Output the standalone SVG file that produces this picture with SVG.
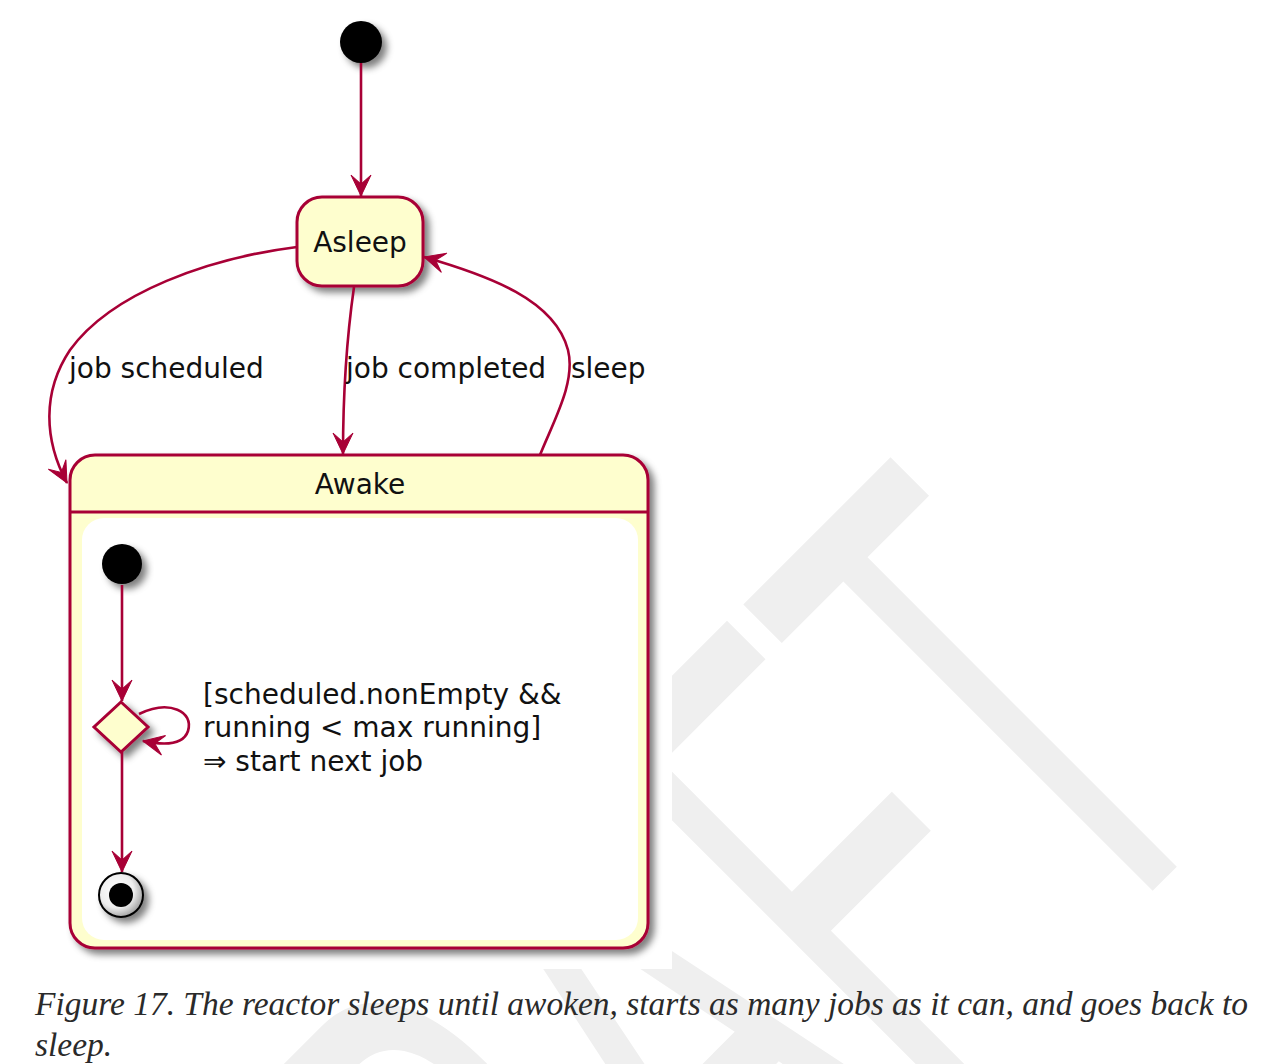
<svg xmlns="http://www.w3.org/2000/svg" width="1270" height="1064" viewBox="0 0 1270 1064">
<style>
.lbl{font-family:"DejaVu Sans",sans-serif;font-size:28px;fill:#111}
.node{fill:#FEFECE;stroke:#A80036;stroke-width:3}
.edge{fill:none;stroke:#A80036;stroke-width:2.6}
.cap{font-family:"Liberation Serif",serif;font-style:italic;font-size:33.5px;fill:#2a2a2a}
.wm{font-family:"Liberation Sans",sans-serif;font-size:715px;fill:#efefef}
</style>
<defs>
<filter id="sh" x="-30%" y="-30%" width="160%" height="160%">
<feGaussianBlur in="SourceAlpha" stdDeviation="3.5"/>
<feOffset dx="5" dy="5" result="b"/>
<feFlood flood-color="#000" flood-opacity="0.5"/>
<feComposite in2="b" operator="in" result="s"/>
<feMerge><feMergeNode in="s"/><feMergeNode in="SourceGraphic"/></feMerge>
</filter>
<marker id="arr" viewBox="-22 -12 24 24" refX="0" refY="0" markerWidth="24" markerHeight="24" markerUnits="userSpaceOnUse" orient="auto">
<path d="M0,0 L-21,-10 L-12,0 L-21,10 Z" fill="#A80036" stroke="#A80036" stroke-width="1" stroke-linejoin="miter"/>
</marker>
<radialGradient id="endg" cx="40%" cy="40%" r="65%">
<stop offset="0" stop-color="#ffffff"/>
<stop offset="0.6" stop-color="#eeeeee"/>
<stop offset="1" stop-color="#999999"/>
</radialGradient>
</defs>
<rect x="0" y="0" width="1270" height="1064" fill="#ffffff"/>
<g id="watermark">
<text class="wm" transform="translate(376.5,1667) rotate(-45) scale(0.515,1)" x="0" y="0">DRAFT</text>
</g>
<rect x="0" y="0" width="672" height="969" fill="#ffffff"/>
<g id="node-awake">
<rect class="node" x="70" y="455" width="578" height="493" rx="25" ry="25" filter="url(#sh)"/>
<path d="M70,512 H648" stroke="#A80036" stroke-width="3" fill="none"/>
<rect x="82" y="518" width="556" height="422" rx="22" ry="22" fill="#ffffff"/>
<text class="lbl" x="360" y="494" text-anchor="middle">Awake</text>
</g>
<g id="node-start">
<circle cx="361" cy="42" r="21" fill="#000" filter="url(#sh)"/>
</g>
<g id="node-asleep">
<rect class="node" x="297" y="197" width="126" height="89" rx="25" ry="25" filter="url(#sh)"/>
<text class="lbl" x="360" y="252" text-anchor="middle">Asleep</text>
</g>
<g id="node-inner-start">
<circle cx="122" cy="564" r="20" fill="#000" filter="url(#sh)"/>
</g>
<g id="node-choice">
<polygon class="node" points="121,702 148,727 121,752 94,727" filter="url(#sh)"/>
</g>
<g id="node-inner-end">
<circle cx="121" cy="895" r="22" fill="url(#endg)" stroke="#000" stroke-width="2" filter="url(#sh)"/>
<circle cx="121" cy="895" r="12" fill="#000"/>
</g>
<g id="connectors">
<path class="edge" d="M361,63 L361,196" marker-end="url(#arr)"/>
<path class="edge" d="M297,247 C210,258 112,292 70,350 C42,392 44,440 67,483" marker-end="url(#arr)"/>
<path class="edge" d="M354,287 C349,322 343,372 343,454" marker-end="url(#arr)"/>
<path class="edge" d="M540,455 C554,420 576,382 568,350 C555,300 490,276 424,257" marker-end="url(#arr)"/>
<path class="edge" d="M122,585 L122,701" marker-end="url(#arr)"/>
<path class="edge" d="M139,714 C170,699 194,712 188,731 C183,746 162,745 143,741" marker-end="url(#arr)"/>
<path class="edge" d="M122,752 L122,872" marker-end="url(#arr)"/>
<text class="lbl" x="69" y="378">job scheduled</text>
<text class="lbl" x="346" y="378">job completed</text>
<text class="lbl" x="571" y="378">sleep</text>
<text class="lbl" x="203" y="704">[scheduled.nonEmpty &amp;&amp;</text>
<text class="lbl" x="203" y="737">running &lt; max running]</text>
<text class="lbl" x="203" y="771">⇒ start next job</text>
</g>
<g id="caption">
<text class="cap" x="35" y="1015" textLength="1213" lengthAdjust="spacingAndGlyphs">Figure 17. The reactor sleeps until awoken, starts as many jobs as it can, and goes back to</text>
<text class="cap" x="35" y="1056">sleep.</text>
</g>
</svg>
